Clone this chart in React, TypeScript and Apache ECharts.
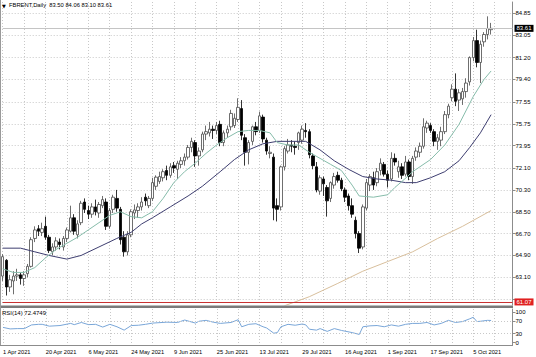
import React, { useEffect, useRef } from "react";
import * as echarts from "echarts";

const FONT = "Liberation Sans, Arial, sans-serif";

// trading days (categories); Apr 2 holiday excluded, last 6 are empty future slots
const aprDays = [1, 5, 6, 7, 8, 9, 12, 13, 14, 15, 16, 19, 20, 21, 22, 23, 26, 27, 28, 29, 30];
const mayDays = [3, 4, 5, 6, 7, 10, 11, 12, 13, 14, 17, 18, 19, 20, 21, 24, 25, 26, 27, 28, 31];
const junDays = [1, 2, 3, 4, 7, 8, 9, 10, 11, 14, 15, 16, 17, 18, 21, 22, 23, 24, 25, 28, 29, 30];
const julDays = [1, 2, 5, 6, 7, 8, 9, 12, 13, 14, 15, 16, 19, 20, 21, 22, 23, 26, 27, 28, 29, 30];
const augDays = [2, 3, 4, 5, 6, 9, 10, 11, 12, 13, 16, 17, 18, 19, 20, 23, 24, 25, 26, 27, 30, 31];
const sepDays = [1, 2, 3, 6, 7, 8, 9, 10, 13, 14, 15, 16, 17, 20, 21, 22, 23, 24, 27, 28, 29, 30];
const octDays = [1, 4, 5, 6, 7, 8, 11, 12, 13, 14, 15, 18, 19, 20];
const months: [string, number[]][] = [
  ["Apr", aprDays], ["May", mayDays], ["Jun", junDays], ["Jul", julDays],
  ["Aug", augDays], ["Sep", sepDays], ["Oct", octDays],
];
const dates: string[] = [];
months.forEach(([m, days]) => days.forEach((d) => dates.push(`${d} ${m} 2021`)));

const opens = [
  63.2, 64.5, 62.3, 62.8, 63.2, 63.3, 63.0, 63.4, 64.0, 66.3,
  67.1, 66.8, 67.3, 66.4, 65.2, 65.6, 66.0, 65.6, 66.3, 66.9,
  68.0, 66.6, 67.6, 69.3, 68.6, 68.3, 68.9, 68.4, 69.0, 69.3,
  67.3, 68.7, 69.6, 68.7, 66.4, 65.2, 66.6, 68.4, 68.6, 68.9,
  69.7, 69.0, 69.6, 70.6, 71.0, 71.3, 71.9, 71.5, 72.3, 72.0,
  72.4, 72.7, 73.0, 73.8, 74.2, 73.1, 73.6, 74.9, 75.0, 75.3,
  75.2, 75.7, 74.2, 75.0, 75.5, 75.6, 76.1, 77.0, 74.6, 73.4,
  74.3, 75.5, 75.2, 76.3, 74.4, 73.3, 73.0, 69.0, 68.9, 72.2,
  73.5, 74.0, 73.9, 74.2, 74.4, 75.2, 75.1, 73.1, 72.2, 70.2,
  71.2, 70.5, 69.6, 70.7, 71.5, 71.1, 70.3, 69.8, 69.0, 67.8,
  66.7, 65.6, 68.8, 70.7, 71.3, 70.9, 71.9, 72.4, 71.6, 71.2,
  72.9, 71.8, 72.2, 71.6, 72.6, 71.4, 73.0, 73.4, 73.9, 75.4,
  75.6, 75.1, 74.3, 74.4, 75.1, 76.5, 77.9, 78.6, 77.7, 77.8,
  78.4, 79.2, 81.2, 82.6, 80.8, 82.5, 83.1, 83.5,
];
const highs = [
  65.0, 64.6, 63.3, 63.6, 63.8, 63.5, 63.6, 64.2, 66.4, 67.3,
  67.4, 67.6, 68.1, 66.6, 65.9, 66.4, 66.3, 66.5, 67.2, 69.0,
  68.3, 67.8, 69.4, 69.6, 69.0, 69.2, 69.5, 69.3, 69.8, 69.6,
  68.8, 69.9, 70.3, 68.9, 66.9, 66.9, 68.7, 69.1, 69.2, 69.7,
  70.0, 69.8, 71.3, 71.5, 71.8, 72.0, 72.3, 72.5, 72.6, 72.7,
  73.0, 73.3, 74.0, 74.6, 74.4, 73.8, 75.1, 75.6, 75.9, 75.6,
  75.9, 76.0, 75.2, 75.6, 76.9, 76.6, 77.85, 77.7, 74.9, 74.4,
  75.6, 75.9, 76.75, 76.5, 74.6, 73.9, 73.3, 69.6, 72.3, 73.9,
  74.5, 74.4, 74.3, 75.1, 75.6, 75.8, 75.3, 73.3, 72.6, 71.5,
  71.4, 70.7, 71.0, 71.7, 71.8, 71.3, 70.5, 70.0, 69.6, 68.1,
  66.9, 69.1, 71.2, 71.6, 71.8, 72.1, 72.9, 72.6, 71.9, 73.4,
  73.3, 72.7, 72.5, 73.1, 72.8, 73.1, 73.8, 74.2, 76.2, 76.0,
  75.8, 75.3, 74.9, 75.5, 76.8, 77.4, 79.0, 79.9, 78.6, 78.7,
  79.5, 81.3, 82.9, 83.5, 82.6, 83.3, 84.6, 84.06,
];
const lows = [
  62.8, 61.6, 61.9, 61.7, 62.8, 62.5, 62.4, 63.1, 63.9, 66.0,
  66.5, 66.5, 66.2, 65.1, 64.9, 65.3, 65.4, 65.3, 66.0, 66.8,
  66.6, 66.3, 67.4, 68.4, 67.9, 68.0, 68.2, 68.0, 68.8, 67.0,
  67.1, 68.4, 68.5, 65.8, 64.8, 64.9, 66.4, 67.9, 68.0, 68.6,
  69.0, 68.8, 69.4, 70.3, 70.8, 71.0, 71.1, 71.3, 71.7, 71.2,
  72.1, 72.3, 72.8, 73.4, 72.2, 72.3, 73.4, 74.4, 74.7, 74.5,
  74.9, 73.9, 73.9, 74.6, 75.2, 75.4, 75.9, 74.4, 72.3, 72.4,
  74.0, 74.8, 75.0, 74.2, 73.2, 72.9, 67.8, 67.7, 68.6, 71.9,
  73.3, 73.4, 73.2, 73.6, 74.1, 74.6, 72.9, 72.0, 70.1, 69.9,
  69.8, 68.1, 69.3, 70.4, 70.9, 70.2, 69.3, 68.6, 68.0, 66.3,
  65.1, 65.4, 68.6, 70.2, 70.3, 70.6, 71.5, 71.4, 70.5, 71.0,
  72.3, 71.3, 71.2, 71.4, 71.1, 70.8, 72.7, 73.0, 73.7, 75.0,
  75.0, 73.9, 73.6, 73.9, 74.9, 76.2, 77.6, 77.2, 76.8, 77.3,
  77.9, 78.9, 80.9, 80.4, 79.1, 82.1, 82.7, 83.1,
];
const closes = [
  64.8, 62.3, 62.9, 63.2, 63.3, 63.0, 63.3, 64.0, 66.2, 67.0,
  66.9, 67.1, 66.4, 65.3, 65.6, 66.1, 65.8, 66.3, 67.0, 68.0,
  66.9, 67.5, 69.2, 68.7, 68.3, 68.9, 68.5, 69.1, 69.5, 67.3,
  68.6, 69.7, 68.8, 66.2, 65.2, 66.6, 68.5, 68.65, 68.9, 69.3,
  69.4, 69.6, 70.9, 71.35, 71.4, 71.8, 71.5, 72.2, 72.1, 72.5,
  72.7, 73.0, 73.8, 74.3, 73.1, 73.5, 74.9, 75.1, 75.3, 75.2,
  75.6, 74.2, 75.0, 75.3, 76.6, 76.2, 77.1, 74.8, 73.4, 74.2,
  75.5, 75.1, 76.4, 74.5, 73.5, 73.4, 68.8, 68.7, 72.2, 73.7,
  74.0, 73.9, 73.8, 75.0, 75.3, 75.1, 73.2, 72.3, 70.3, 71.3,
  70.8, 69.4, 70.9, 71.4, 71.1, 70.4, 69.7, 69.0, 68.3, 66.7,
  65.5, 68.9, 70.9, 71.4, 70.7, 71.8, 72.5, 71.6, 71.1, 72.9,
  72.6, 72.2, 71.5, 72.6, 71.4, 72.9, 73.5, 73.9, 75.5, 75.8,
  75.2, 74.3, 74.6, 75.1, 76.5, 77.2, 78.6, 77.6, 78.3, 78.4,
  79.1, 81.2, 82.6, 80.8, 82.3, 83.1, 83.6, 83.61,
];

// moving averages: [bar index, price]
const maFast: [number, number][] = [
  [0, 63.8], [3, 63.5], [6, 63.5], [9, 63.9], [12, 64.7], [15, 65.4], [18, 65.9], [21, 66.4],
  [24, 67.0], [27, 67.6], [30, 68.2], [33, 68.5], [36, 68.1], [39, 68.0], [42, 68.5], [45, 69.6],
  [48, 70.9], [51, 71.8], [54, 72.5], [57, 73.3], [60, 74.0], [63, 74.6], [66, 75.1], [69, 75.2],
  [72, 75.2], [75, 75.0], [77, 74.2], [80, 74.0], [83, 74.0], [86, 73.4], [89, 72.9], [92, 72.4],
  [95, 71.9], [98, 70.7], [100, 69.8], [104, 69.7], [108, 69.9], [110, 70.5], [112, 71.0],
  [115, 71.8], [120, 72.8], [124, 74.0], [128, 75.7], [132, 78.0], [135, 79.4], [137, 80.1],
];
const maSlow: [number, number][] = [
  [0, 65.5], [5, 65.5], [9, 65.2], [13, 64.9], [18, 64.6], [22, 64.9], [27, 65.6], [32, 66.3],
  [36, 66.8], [39, 67.5], [42, 68.0], [47, 68.9], [52, 69.8], [56, 70.6], [61, 71.8], [65, 72.8],
  [69, 73.6], [73, 74.1], [77, 74.3], [81, 74.3], [85, 74.3], [89, 73.6], [93, 72.7], [97, 72.0],
  [101, 71.4], [105, 71.2], [109, 71.1], [113, 70.9], [116, 70.9], [120, 71.3], [124, 71.8],
  [128, 72.7], [131, 73.8], [134, 75.0], [137, 76.5],
];
const maLong: [number, number][] = [
  [79, 60.75], [86, 61.5], [94, 62.6], [101, 63.6], [108, 64.4], [115, 65.2], [122, 66.3],
  [129, 67.3], [137, 68.6],
];
const rsi: [number, number][] = [
  [0, 50], [2, 45], [4, 46], [6, 46], [8, 58], [10, 60], [11, 60], [13, 54], [16, 56], [19, 63],
  [20, 59], [22, 66], [24, 59], [26, 60], [28, 51], [30, 60], [32, 52], [34, 41], [36, 56], [38, 57],
  [40, 60], [42, 64], [46, 67], [49, 66], [51, 74], [54, 64], [55, 70], [57, 73], [59, 67], [61, 63],
  [64, 66], [66, 75], [67, 52], [69, 60], [71, 62], [73, 52], [74, 48], [76, 31], [77, 33], [78, 52],
  [80, 60], [82, 57], [84, 61], [85, 58], [86, 44], [88, 41], [89, 46], [91, 37], [93, 46], [95, 40],
  [98, 33], [100, 27], [101, 52], [103, 55], [105, 56], [107, 52], [109, 58], [111, 54], [113, 60],
  [115, 63], [117, 63], [119, 66], [121, 58], [123, 63], [125, 73], [127, 66], [129, 69], [131, 78],
  [132, 83], [133, 69], [134, 70], [136, 73], [137, 72.47],
];

// grid levels of the price scale; the lowest one sits behind the red alert box
const priceGrid = [61.3, 63.1, 64.9, 66.7, 68.5, 70.3, 72.1, 73.95, 75.75, 77.55, 79.4, 81.2, 83.05, 84.85];
const priceLabels = [63.1, 64.9, 66.7, 68.5, 70.3, 72.1, 73.95, 75.75, 77.55, 79.4, 81.2, 83.05, 84.85];
const rsiTicks = [0, 30, 70, 100];
const rsiLevels = [30, 70];
const lastPrice = 83.61;
const alertLevel = 61.07;
const titleText = "FBRENT,Daily  83.50 84.06 83.10 83.61";
const rsiTitle = "RSI(14) 72.4749";

const GL = 2.7;
const GW = 509.8;
const gridDots = { color: "#c8c8c8", type: [1, 2] as number[], width: 1 };

export default function App() {
  const ref = useRef<HTMLDivElement>(null);
  useEffect(() => {
    if (!ref.current) return;
    const chart = echarts.init(ref.current, null, { renderer: "svg" });
    const candles = opens.map((o, i) => [o, closes[i], lows[i], highs[i]]);
    const option: any = {
      animation: false,
      backgroundColor: "#ffffff",
      textStyle: { fontFamily: FONT },
      grid: [
        { left: GL, top: 2, width: GW, height: 303 },
        { left: GL, top: 309, width: GW, height: 36 },
      ],
      xAxis: [
        {
          type: "category", gridIndex: 0, data: dates, boundaryGap: false,
          axisLine: { show: false }, axisTick: { show: false }, axisLabel: { show: false },
          splitLine: { show: true, interval: (i: number) => i % 6 === 0, lineStyle: gridDots },
        },
        {
          type: "category", gridIndex: 1, data: dates, boundaryGap: false,
          axisLine: { show: false }, axisTick: { show: false },
          axisLabel: {
            show: true, interval: (i: number) => i % 12 === 0, align: "left",
            fontSize: 5.7, color: "#000", margin: 4, fontFamily: FONT,
          },
          splitLine: { show: true, interval: (i: number) => i % 6 === 0, lineStyle: gridDots },
        },
      ],
      yAxis: [
        {
          type: "value", gridIndex: 0, position: "right", min: 60.818, max: 85.781, scale: true,
          axisLine: { show: true, lineStyle: { color: "#8c8c8c" } },
          axisTick: { show: true, length: 3, customValues: priceGrid, lineStyle: { color: "#8c8c8c" } },
          axisLabel: {
            customValues: priceLabels, formatter: (v: number) => v.toFixed(2),
            fontSize: 6, color: "#000", margin: 3, fontFamily: FONT,
          },
          splitLine: { show: true, lineStyle: gridDots },
        },
        {
          type: "value", gridIndex: 1, position: "right", min: -7.5, max: 110,
          axisLine: { show: true, lineStyle: { color: "#8c8c8c" } },
          axisTick: { show: true, length: 3, customValues: rsiTicks, lineStyle: { color: "#8c8c8c" } },
          axisLabel: { customValues: rsiTicks, fontSize: 6, color: "#000", margin: 3, fontFamily: FONT },
          splitLine: { show: false },
        },
      ],
      series: [
        {
          type: "line", xAxisIndex: 0, yAxisIndex: 0, data: maLong, showSymbol: false,
          lineStyle: { color: "#d8bf9c", width: 1 }, z: 2,
        },
        {
          type: "candlestick", xAxisIndex: 0, yAxisIndex: 0, data: candles, barWidth: 3, clip: false,
          itemStyle: { color: "#ffffff", color0: "#000000", borderColor: "#4a4a4a", borderColor0: "#000000", borderWidth: 0.8 },
          z: 3,
          markLine: {
            silent: true, symbol: ["none", "none"], animation: false,
            data: [
              {
                yAxis: lastPrice,
                lineStyle: { color: "#c4c4c4", type: "solid", width: 1 },
                label: {
                  show: true, position: "end", distance: 2, formatter: lastPrice.toFixed(2),
                  color: "#fff", backgroundColor: "#000", padding: [1, 2, 0, 2], fontSize: 6, fontFamily: FONT,
                },
              },
              {
                yAxis: alertLevel,
                lineStyle: { color: "#c83232", type: "solid", width: 1 },
                label: {
                  show: true, position: "end", distance: 2, formatter: alertLevel.toFixed(2),
                  color: "#fff", backgroundColor: "#e02020", padding: [1, 2, 0, 2], fontSize: 6, fontFamily: FONT,
                },
              },
            ],
          },
        },
        {
          type: "line", xAxisIndex: 0, yAxisIndex: 0, data: maSlow, showSymbol: false,
          lineStyle: { color: "#3e3e70", width: 1 }, z: 4,
        },
        {
          type: "line", xAxisIndex: 0, yAxisIndex: 0, data: maFast, showSymbol: false,
          lineStyle: { color: "#86bcaa", width: 1 }, z: 4,
        },
        {
          type: "line", xAxisIndex: 1, yAxisIndex: 1, data: rsi, showSymbol: false,
          lineStyle: { color: "#79a6d8", width: 1 },
          markLine: {
            silent: true, symbol: ["none", "none"], animation: false, label: { show: false },
            lineStyle: { color: "#c8c8c8", type: [1, 2], width: 1 },
            data: rsiLevels.map((v) => ({ yAxis: v })),
          },
        },
      ],
      graphic: [
        { type: "rect", z: 20, shape: { x: 0, y: 305.5, width: 513, height: 2.5 }, style: { fill: "#7a7a7a" } },
        { type: "line", z: 20, shape: { x1: 0.5, y1: 0, x2: 0.5, y2: 345.5 }, style: { stroke: "#9a9a9a", lineWidth: 1 } },
        { type: "line", z: 20, shape: { x1: 0, y1: 345.5, x2: 513, y2: 345.5 }, style: { stroke: "#8c8c8c", lineWidth: 1 } },
        { type: "text", z: 20, left: 2, top: 3, style: { text: "\u25BC", fill: "#000", fontSize: 5, fontFamily: "DejaVu Sans" } },
        { type: "text", z: 20, left: 9, top: 2, style: { text: titleText, fill: "#000", fontSize: 5.8, fontFamily: FONT } },
        { type: "text", z: 20, left: 2, top: 310, style: { text: rsiTitle, fill: "#000", fontSize: 6, fontFamily: FONT } },
      ],
    };
    chart.setOption(option);
    return () => chart.dispose();
  }, []);
  return <div ref={ref} style={{ position: "absolute", left: 0, top: 0, width: 536, height: 357 }} />;
}
